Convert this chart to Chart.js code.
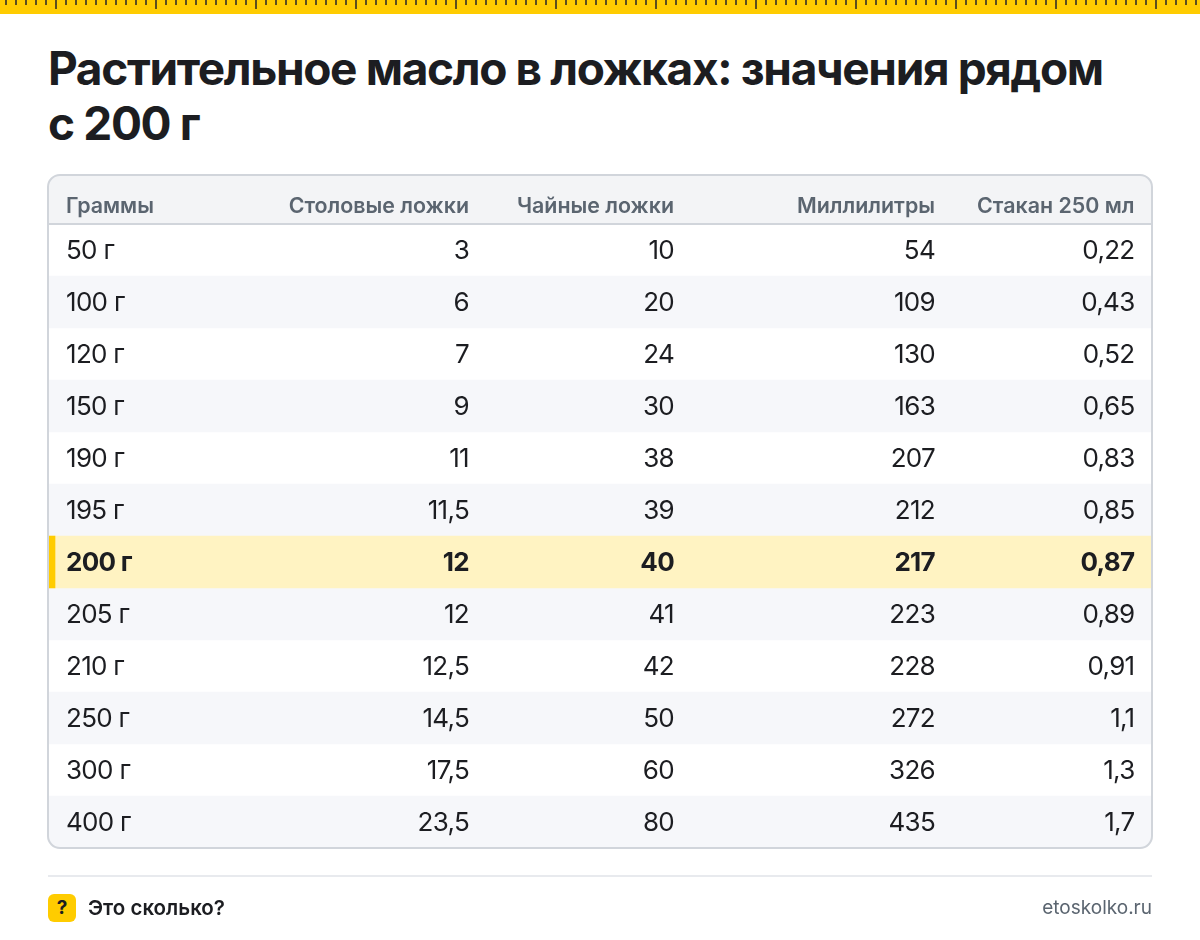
<!DOCTYPE html>
<html lang="ru">
<head>
<meta charset="utf-8">
<title>Растительное масло в ложках</title>
<script src="https://cdn.jsdelivr.net/npm/chart.js@4"></script>
<style>
  html, body { margin: 0; padding: 0; background: #fff; }
  body { width: 1200px; height: 940px; position: relative; overflow: hidden; font-family: Inter, sans-serif; color: #1c1d21; }
  #ruler { position: absolute; left: 0; top: 0; width: 1200px; height: 14px; background-color: #ffcc00;
    background-image:
      repeating-linear-gradient(90deg, transparent 0 55px, #5c4f1e 55px 57px, transparent 57px 100px),
      repeating-linear-gradient(90deg, transparent 0 5px, #5c4f1e 5px 7px, transparent 7px 10px);
    background-size: 1200px 9px, 1200px 5px; background-repeat: no-repeat; }
  #title { position: absolute; left: 48px; top: 41px; width: 1104px; margin: 0; font-size: 46px; line-height: 55px; font-weight: 700; letter-spacing: -1.35px; color: #1c1d21; }
  canvas { position: absolute; left: 0; top: 0; }
  #rule { position: absolute; left: 48px; top: 875px; width: 1104px; height: 2px; background: #e8eaee; }
  #badge { position: absolute; left: 48px; top: 894px; width: 28px; height: 28px; border-radius: 6px; background: #ffcc00; font-size: 19px; font-weight: 700; line-height: 28px; text-align: center; }
  #brand { position: absolute; left: 88px; top: 894px; font-size: 20.5px; font-weight: 600; line-height: 28px; }
  #site { position: absolute; right: 48px; top: 894px; font-size: 19px; line-height: 28px; color: #5b6570; }
</style>
</head>
<body>
<div id="ruler"></div>
<h1 id="title">Растительное масло в ложках: значения рядом с&nbsp;200&nbsp;г</h1>
<canvas id="myChart" width="1200" height="940"></canvas>
<div id="rule"></div>
<div id="badge">?</div>
<div id="brand">Это сколько?</div>
<div id="site">etoskolko.ru</div>

<script>
// table data
var grams = ['50 г', '100 г', '120 г', '150 г', '190 г', '195 г', '200 г', '205 г', '210 г', '250 г', '300 г', '400 г'];
var tablespoons = [3, 6, 7, 9, 11, 11.5, 12, 12, 12.5, 14.5, 17.5, 23.5];
var teaspoons = [10, 20, 24, 30, 38, 39, 40, 41, 42, 50, 60, 80];
var milliliters = [54, 109, 130, 163, 207, 212, 217, 223, 228, 272, 326, 435];
var cups = [0.22, 0.43, 0.52, 0.65, 0.83, 0.85, 0.87, 0.89, 0.91, 1.1, 1.3, 1.7];
var headers = ['Граммы', 'Столовые ложки', 'Чайные ложки', 'Миллилитры', 'Стакан 250 мл'];
var highlighted = '200 г';

// layout, in x scale units (px from left table edge)
var tableWidth = 1104;
var columnLeft = 18;
var columnRight = [421, 626, 887, 1086.5];
var columns = [tablespoons, teaspoons, milliliters, cups];

var highlightIndex = grams.indexOf(highlighted);

function fmt(v) {
    return String(v).replace('.', ',');
}

var stripes = grams.map(function(g, i) {
    return (i % 2 == 1 && i != highlightIndex) ? [0, tableWidth] : null;
});
var highlight = grams.map(function(g, i) {
    return i == highlightIndex ? [0, tableWidth] : null;
});
var accent = grams.map(function(g, i) {
    return i == highlightIndex ? [1, 7] : null;
});

function framePath(ctx) {
    ctx.beginPath();
    ctx.roundRect(48, 175, 1104, 673, 12);
}

var tablePlugin = {
    id: 'tablePlugin',
    beforeDraw: function(chart) {
        // tighter digits, applies to the tick labels too
        chart.ctx.letterSpacing = '-0.7px';
    },
    beforeDatasetsDraw: function(chart) {
        var ctx = chart.ctx;
        ctx.save();
        framePath(ctx);
        ctx.clip();
        // header band
        ctx.fillStyle = '#f3f4f6';
        ctx.fillRect(48, 175, 1104, 49);
    },
    afterDatasetsDraw: function(chart) {
        var ctx = chart.ctx;
        var x = chart.scales.x;
        var y = chart.scales.y;
        ctx.restore();

        ctx.save();
        ctx.strokeStyle = '#d1d5db';
        ctx.lineWidth = 2;
        ctx.beginPath();
        ctx.moveTo(48, 224);
        ctx.lineTo(1152, 224);
        ctx.stroke();
        framePath(ctx);
        ctx.stroke();

        // header text
        ctx.textBaseline = 'middle';
        ctx.fillStyle = '#5b6570';
        ctx.font = '600 21.4px Inter';
        ctx.letterSpacing = '0px';
        ctx.textAlign = 'left';
        ctx.fillText(headers[0], x.getPixelForValue(columnLeft), 206.5);
        ctx.textAlign = 'right';
        for (var c = 0; c < columns.length; c++) {
            ctx.fillText(headers[c + 1], x.getPixelForValue(columnRight[c]), 206.5);
        }

        // cell values
        ctx.fillStyle = '#1c1d21';
        ctx.letterSpacing = '-0.7px';
        for (c = 0; c < columns.length; c++) {
            for (var i = 0; i < grams.length; i++) {
                ctx.font = (i == highlightIndex ? '700' : '400') + ' 26px Inter';
                ctx.fillText(fmt(columns[c][i]), x.getPixelForValue(columnRight[c]), y.getPixelForValue(i) + 1.5);
            }
        }
        ctx.restore();
    }
};

var config = {
    type: 'bar',
    data: {
        labels: grams,
        datasets: [
            { label: 'accent', data: accent, backgroundColor: '#ffcc00', order: 1 },
            { label: 'highlight', data: highlight, backgroundColor: '#fff3c2', order: 2 },
            { label: 'stripes', data: stripes, backgroundColor: '#f6f7fa', order: 3 }
        ]
    },
    options: {
        indexAxis: 'y',
        responsive: false,
        devicePixelRatio: 1,
        animation: false,
        layout: { padding: { left: 48, right: 48, top: 224, bottom: 92 } },
        datasets: { bar: { barPercentage: 1, categoryPercentage: 1, grouped: false } },
        plugins: {
            legend: { display: false },
            title: { display: false },
            tooltip: { enabled: false }
        },
        scales: {
            x: { type: 'linear', min: 0, max: tableWidth, display: false },
            y: {
                type: 'category',
                afterFit: function(scale) { scale.width = 0; }, // labels sit inside the table
                grid: { display: false },
                border: { display: false },
                ticks: {
                    mirror: true,
                    z: 1,
                    padding: columnLeft,
                    labelOffset: 1.5,
                    color: '#1c1d21',
                    autoSkip: false,
                    font: function(c) {
                        return { family: 'Inter', size: 26, weight: c.index == highlightIndex ? '700' : '400' };
                    }
                }
            }
        }
    },
    plugins: [tablePlugin]
};

window.onload = function() {
    var ctx = document.getElementById('myChart').getContext('2d');
    document.fonts.ready.then(function() {
        window.myTable = new Chart(ctx, config);
    });
};
</script>
</body>
</html>
